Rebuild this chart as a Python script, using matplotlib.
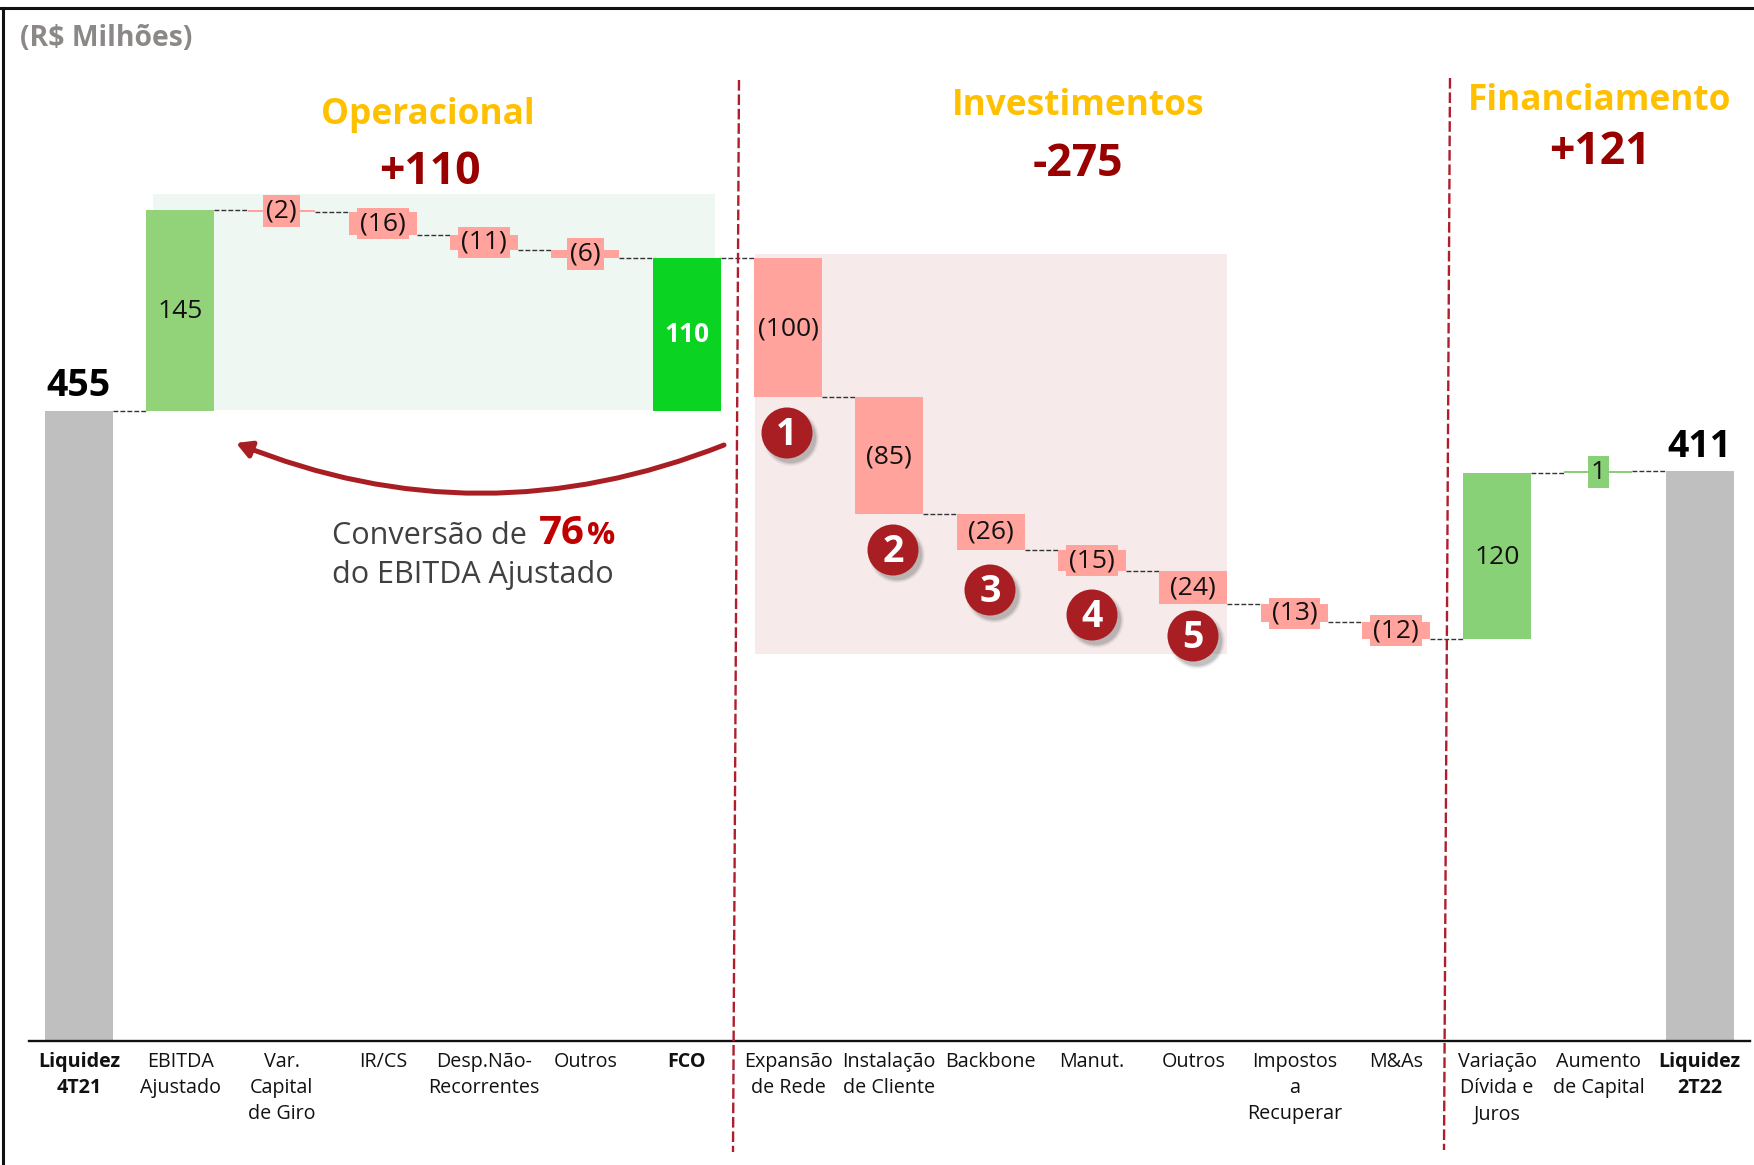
import numpy as np
import matplotlib
matplotlib.use("Agg")
import matplotlib.pyplot as plt
from matplotlib.patches import Rectangle, Circle, FancyArrowPatch

plt.rcParams['font.family'] = ['Open Sans', 'DejaVu Sans']

# Dados (R$ milhoes)
categorias = ["Liquidez\n4T21", "EBITDA\nAjustado", "Var.\nCapital\nde Giro", "IR/CS",
              "Desp.Não-\nRecorrentes", "Outros", "FCO", "Expansão\nde Rede",
              "Instalação\nde Cliente", "Backbone", "Manut.", "Outros",
              "Impostos\na\nRecuperar", "M&As", "Variação\nDívida e\nJuros",
              "Aumento\nde Capital", "Liquidez\n2T22"]
valores = [455, 145, -2, -16, -11, -6, 110, -100, -85, -26, -15, -24, -13, -12, 120, 1, 411]
tipos = ["total", "delta", "delta", "delta", "delta", "delta", "sub", "delta", "delta",
         "delta", "delta", "delta", "delta", "delta", "delta", "delta", "total"]
cores = ["#BFBFBF", "#92D37A", "#FFA39C", "#FFA39C", "#FFA39C", "#FFA39C", "#0BD322",
         "#FFA39C", "#FFA39C", "#FFA39C", "#FFA39C", "#FFA39C", "#FFA39C", "#FFA39C",
         "#88D176", "#88D176", "#BFBFBF"]
blocos = ["Operacional", "Investimentos", "Financiamento"]
blocos_valor = ["+110", "-275", "+121"]
numeros = ["1", "2", "3", "4", "5"]

W, H = 1754, 1165
fig = plt.figure(figsize=(W / 100, H / 100), dpi=100, facecolor="white")

# fundo e anotacoes em pixels, barras em escala de dados
fundo = fig.add_axes([0, 0, 1, 1], zorder=0)
ax = fig.add_axes([0, 0, 1, 1], zorder=1)
frente = fig.add_axes([0, 0, 1, 1], zorder=2)
for a in (fundo, frente):
    a.set_xlim(0, W)
    a.set_ylim(H, 0)
    a.axis("off")
frente.patch.set_alpha(0)

passo = 101.3
x0 = 78.9
base_px = 1040.7
esc = 1.385
ax.set_xlim(-x0 / passo, (W - x0) / passo)
ax.set_ylim(-(H - base_px) / esc, base_px / esc)
ax.axis("off")
ax.patch.set_alpha(0)

larg = 0.67
tam_valor = 19
acum = 0
niveis = []
for i, (v, t, c) in enumerate(zip(valores, tipos, cores)):
    if t == "total":
        baixo, alto = 0, v
        acum = v
    elif t == "sub":
        baixo, alto = acum - v, acum
    else:
        baixo, alto = min(acum, acum + v), max(acum, acum + v)
        acum = acum + v
    ax.bar(i, alto - baixo, bottom=baixo, width=larg, color=c, linewidth=0, zorder=2)
    niveis.append(acum)
    meio = (alto + baixo) / 2
    if t == "total":
        ax.text(i, alto + 4, str(v), ha="center", va="bottom", fontsize=27,
                fontweight="bold", color="black", zorder=4)
    elif t == "sub":
        ax.text(i, meio, str(v), ha="center", va="center", fontsize=tam_valor,
                fontweight="bold", color="white", zorder=4)
    else:
        txt = str(v) if v > 0 else "(%d)" % abs(v)
        if abs(v) < 30:
            ax.text(i, meio, txt, ha="center", va="center", fontsize=tam_valor, color="#111111",
                    bbox=dict(boxstyle="square,pad=0.12", fc=c, ec="none"), zorder=4)
        else:
            ax.annotate(txt, (i, meio), xytext=(0, -1.2), textcoords="offset points",
                        ha="center", va="center", fontsize=tam_valor, color="#111111", zorder=4)

for i, n in enumerate(niveis[:-1]):
    ax.plot([i + larg / 2, i + 1 - larg / 2], [n, n], color="#333333", lw=1.0,
            ls=(0, (3.5, 1.5)), zorder=1)

# paineis
fundo.add_patch(Rectangle((153, 194), 562, 216, fc="#EEF7F2", ec="none"))
fundo.add_patch(Rectangle((755, 254), 472, 400, fc="#F6EAEA", ec="none"))

# moldura e eixo
frente.plot([0, W], [8, 8], color="#111111", lw=2.2)
frente.plot([3, 3], [8, H], color="#111111", lw=2.2)
frente.plot([29, 1750], [base_px, base_px], color="#111111", lw=1.7)

# divisores
frente.plot([739, 733], [80, 1152], color="#B01E2E", lw=1.7, ls=(0, (4.5, 1.6)))
frente.plot([1450, 1444], [78, 1150], color="#B01E2E", lw=1.7, ls=(0, (4.5, 1.6)))

# rotulos do eixo
for i, nome in enumerate(categorias):
    negrito = tipos[i] in ("total", "sub")
    frente.text(x0 + passo * i, 1052, nome, ha="center", va="top", fontsize=14.2,
                fontweight="bold" if negrito else "normal", color="#111111",
                linespacing=1.41)

frente.text(20, 38, "(R$ Milhões)", ha="left", va="center", fontsize=20.4,
            fontweight="bold", color="#8C8888")

pos_blocos = [(428, 115, 430, 172), (1078, 106, 1078, 164), (1600, 101, 1600, 153)]
for nome, val, (xa, ya, xb, yb) in zip(blocos, blocos_valor, pos_blocos):
    frente.text(xa, ya, nome, ha="center", va="center", fontsize=25.4,
                fontweight="bold", color="#FFC000")
    frente.text(xb, yb, val, ha="center", va="center", fontsize=32,
                fontweight="bold", color="#990000")

# seta de conversao
frente.add_patch(FancyArrowPatch((724, 445), (236, 443), connectionstyle="arc3,rad=-0.2",
                                 arrowstyle="-|>,head_length=9,head_width=5",
                                 color="#A91E23", lw=3.6, shrinkA=0, shrinkB=0))
frente.text(332, 536, "Conversão de", ha="left", va="center", fontsize=22, color="#404040")
frente.text(539, 533, "76", ha="left", va="center", fontsize=29, fontweight="bold", color="#C00000")
frente.text(587, 536, "%", ha="left", va="center", fontsize=22.5, fontweight="bold", color="#C00000")
frente.text(332, 575, "do EBITDA Ajustado", ha="left", va="center", fontsize=22, color="#404040")

# circulos numerados
pos_circ = [(787, 433), (893, 550), (990, 590), (1092, 615), (1193, 636)]
for n, (cx, cy) in zip(numeros, pos_circ):
    for r, al in [(28, 0.06), (27, 0.08), (26, 0.12), (25, 0.16)]:
        frente.add_patch(Circle((cx + 4, cy + 5), r, fc="#555555", ec="none", alpha=al))
    frente.add_patch(Circle((cx, cy), 25.5, fc="#A91E23", ec="none"))
    frente.text(cx, cy + 2, n, ha="center", va="center", fontsize=27, fontweight="bold", color="white")

fig.savefig("out.png", dpi=100)
